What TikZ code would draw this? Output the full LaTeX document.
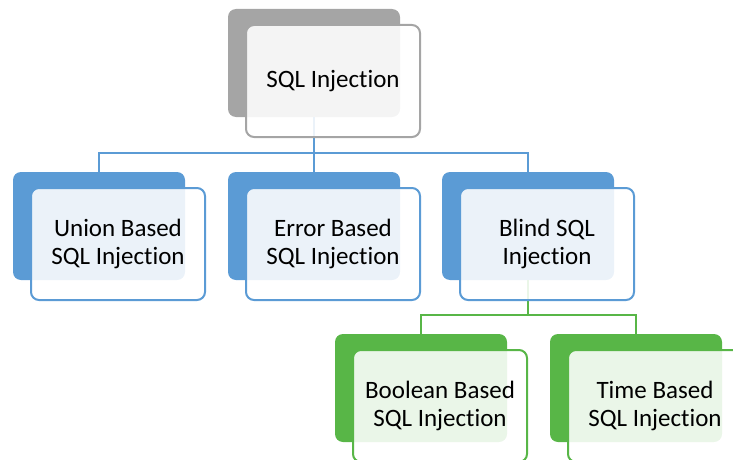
\documentclass[tikz,border=0pt]{standalone}
\usepackage{fontspec}
\setmainfont[RawFeature={-liga}]{Carlito}
\usetikzlibrary{positioning}
\definecolor{grayb}{HTML}{A5A5A5}
\definecolor{blueb}{HTML}{5B9BD5}
\definecolor{greenb}{HTML}{58B647}
\begin{document}
\begin{tikzpicture}[x=1pt,y=-1pt,
    back/.style={fill=#1,rounded corners=8pt,minimum width=172pt,minimum height=108pt,inner sep=0pt},
    front/.style={draw=#1,line width=2pt,fill=white,fill opacity=.88,text opacity=1,
      rounded corners=8pt,minimum width=174pt,minimum height=112pt,inner sep=0pt,
      align=center,font=\fontsize{25}{28}\selectfont},
    link/.style={draw=#1,line width=2pt}]
    \clip (0,0) rectangle (733,460);
    \def\dx{19}
    \def\dy{18}
    % back boxes
    \node[back=grayb] (sqlb) at (314,63) {};
    \foreach \n/\x in {unionb/99,errorb/314,blindb/528}
      \node[back=blueb] (\n) at (\x,226) {};
    \foreach \n/\x in {boolb/421,timeb/636}
      \node[back=greenb] (\n) at (\x,388) {};
    % connectors
    \draw[link=blueb] (sqlb.south) -- ++(0,36) coordinate (j1);
    \draw[link=blueb] (j1) -| (unionb.north);
    \draw[link=blueb] (j1) -| (blindb.north);
    \draw[link=blueb] (j1) -- (errorb.north);
    \draw[link=greenb] (blindb.south) -- ++(0,35) coordinate (j2);
    \draw[link=greenb] (j2) -| (boolb.north);
    \draw[link=greenb] (j2) -| (timeb.north);
    % front boxes
    \node[front=grayb] (sql) at ([shift={(\dx,\dy)}]sqlb) {SQL Injection};
    \node[front=blueb] (union) at ([shift={(\dx,\dy)}]unionb) {Union Based\\SQL Injection};
    \node[front=blueb] (error) at ([shift={(\dx,\dy)}]errorb) {Error Based\\SQL Injection};
    \node[front=blueb] (blind) at ([shift={(\dx,\dy)}]blindb) {Blind SQL\\Injection};
    \node[front=greenb] (bool) at ([shift={(\dx,\dy)}]boolb) {Boolean Based\\SQL Injection};
    \node[front=greenb] (time) at ([shift={(\dx,\dy)}]timeb) {Time Based\\SQL Injection};
\end{tikzpicture}
\end{document}
